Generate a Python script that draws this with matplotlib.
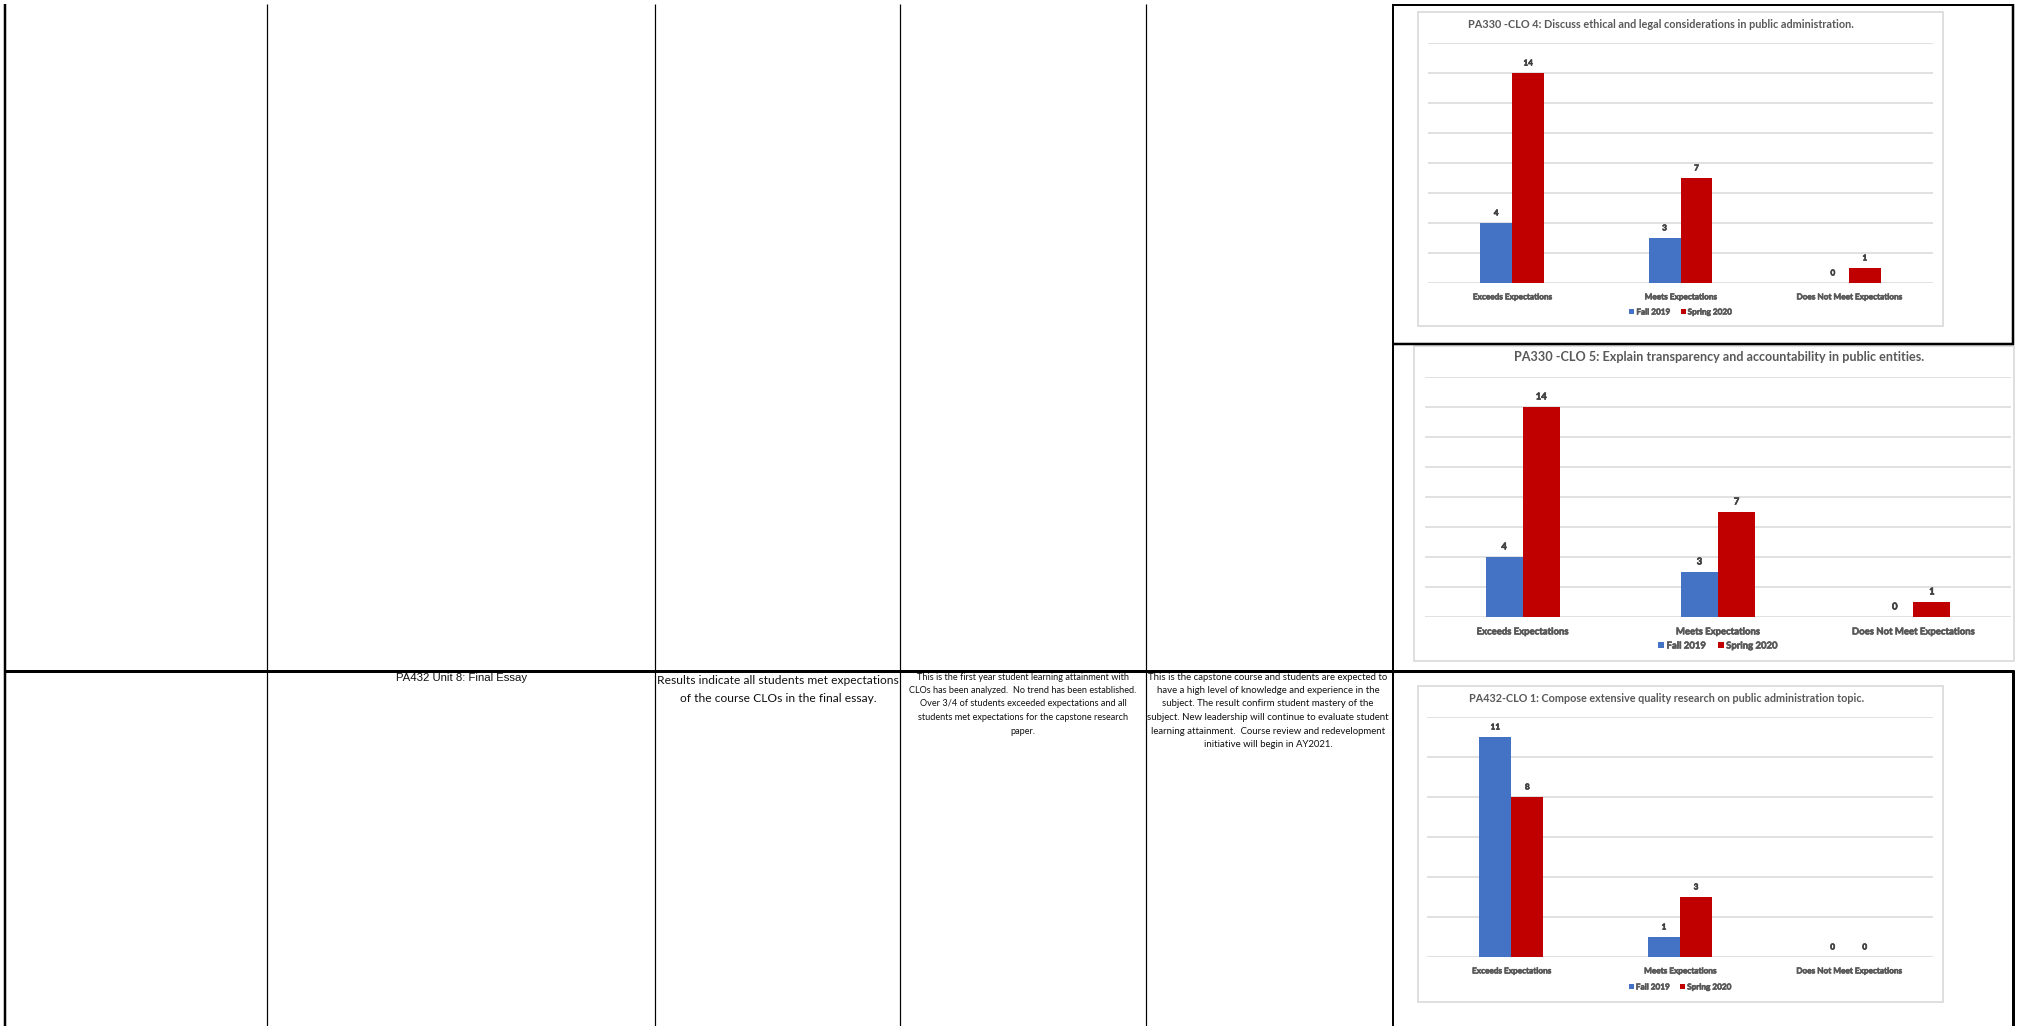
import numpy as np
import matplotlib
matplotlib.use("Agg")
import matplotlib.pyplot as plt
import matplotlib.patheffects as pe
from matplotlib.patches import Rectangle
from matplotlib import font_manager

W, H = 2023, 1026

# Chart data
categories = ["Exceeds Expectations", "Meets Expectations", "Does Not Meet Expectations"]
terms = ["Fall 2019", "Spring 2020"]

clo4_fall = [4, 3, 0]
clo4_spring = [14, 7, 1]
clo5_fall = [4, 3, 0]
clo5_spring = [14, 7, 1]
clo1_fall = [11, 1, 0]
clo1_spring = [8, 3, 0]

clo4_title = "PA330 -CLO 4: Discuss ethical and legal considerations in public administration."
clo5_title = "PA330 -CLO 5: Explain transparency and accountability in public entities."
clo1_title = "PA432-CLO 1: Compose extensive quality research on public administration topic."

# Table cells of the PA432 row
assessment_text = "PA432 Unit 8: Final Essay"
results_lines = ["Results indicate all students met expectations",
                 "of the course CLOs in the final essay."]
trend_lines = ["This is the first year student learning attainment with",
               "CLOs has been analyzed.  No trend has been established.",
               "Over 3/4 of students exceeded expectations and all",
               "students met expectations for the capstone research",
               "paper."]
action_lines = ["This is the capstone course and students are expected to",
                "have a high level of knowledge and experience in the",
                "subject. The result confirm student mastery of the",
                "subject. New leadership will continue to evaluate student",
                "learning attainment.  Course review and redevelopment",
                "initiative will begin in AY2021."]

BLUE = "#4472C4"
RED = "#C00000"
GRID = "#D9D9D9"
TXT = "#595959"

installed = {f.name for f in font_manager.fontManager.ttflist}
NARROW = "Liberation Sans Narrow" if "Liberation Sans Narrow" in installed else "Liberation Sans"
BODY = "Lato"

fig = plt.figure(figsize=(W / 100, H / 100), dpi=100)
fig.patch.set_facecolor("white")
bg = fig.add_axes([0, 0, 1, 1])
bg.set_xlim(0, W)
bg.set_ylim(H, 0)
bg.axis("off")


def px_axes(x0, y0, x1, y1):
    return fig.add_axes([x0 / W, 1 - y1 / H, (x1 - x0) / W, (y1 - y0) / H])


def line(xs, ys, px):
    bg.plot(xs, ys, color="black", lw=px * 0.72, solid_capstyle="butt")


renderer = fig.canvas.get_renderer()


def fit(texts, width):
    # scale a group of text lines so the widest one spans `width` pixels
    widest = max(t.get_window_extent(renderer).width for t in texts)
    for t in texts:
        t.set_fontsize(t.get_fontsize() * width / widest)


def size_for(s, width, **kw):
    probe = bg.text(0, 0, s, fontsize=10, **kw)
    w = probe.get_window_extent(renderer).width
    probe.remove()
    return 10 * width / w


# table grid
for x in (267, 655, 900, 1146):
    line([x, x], [4, H], 1.2)
line([5, 5], [4, H], 2.5)
line([1393, 1393], [4, H], 2)
line([2013, 2013], [4, 345], 2.5)
line([2013, 2013], [670, H], 3)
line([1392, 2014], [5, 5], 2)
line([1392, 2014], [344, 344], 2.5)
line([4, 2014], [671, 671], 3)

t = bg.text(462, 678, assessment_text, ha="center", va="center", fontsize=9,
            family=NARROW, color="#111111")
fit([t], 132)


def block(lines, cx, y0, step, width, size):
    ts = [bg.text(cx, y0 + i * step, s, ha="center", va="center", fontsize=size,
                  family=BODY, color="#111111") for i, s in enumerate(lines)]
    fit(ts, width)


block(results_lines, 778, 680, 18, 240, 10)
block(trend_lines, 1023, 677, 13.5, 228, 7)
block(action_lines, 1268, 677, 13.5, 243, 7)

# small chart labels are thin at this size, thicken them a little
heavy = [pe.withStroke(linewidth=0.45, foreground=TXT)]
heavy_dark = [pe.withStroke(linewidth=0.45, foreground="#404040")]


def draw_chart(box, plot, title, title_pos, title_w, fall, spring, ymax,
               legend_y, label_w):
    x0, y0, x1, y1 = box
    bg.add_patch(Rectangle((x0, y0), x1 - x0, y1 - y0, fc="white", ec=GRID, lw=1.2))
    tt = bg.text(title_pos[0], title_pos[1], title, ha="center", va="center",
                 fontsize=7, fontweight="bold", family=BODY, color=TXT)
    fit([tt], title_w)
    fs = size_for(categories[2], label_w, family=BODY, fontweight="bold")

    ax = px_axes(*plot)
    idx = np.arange(len(categories))
    w = 0.19
    bars_f = ax.bar(idx - w / 2, fall, w, color=BLUE, label=terms[0])
    bars_s = ax.bar(idx + w / 2, spring, w, color=RED, label=terms[1])
    for bars, vals in ((bars_f, fall), (bars_s, spring)):
        for b, v in zip(bars, vals):
            ax.annotate(str(v), (b.get_x() + b.get_width() / 2, v), xytext=(0, 10),
                        textcoords="offset pixels", ha="center", va="center",
                        fontsize=fs, fontweight="bold", family=BODY, color="#404040",
                        path_effects=heavy_dark)
    ax.set_xlim(-0.5, 2.5)
    ax.set_ylim(0, ymax)
    ax.set_yticks(range(0, ymax + 1, 2))
    ax.grid(axis="y", color=GRID, lw=1.1)
    ax.set_axisbelow(True)
    for s in ax.spines.values():
        s.set_visible(False)
    ax.tick_params(left=False, labelleft=False, bottom=False, pad=4)
    ax.set_xticks(idx, categories)
    for lab in ax.get_xticklabels():
        lab.set_fontsize(fs)
        lab.set_fontweight("bold")
        lab.set_family(BODY)
        lab.set_color(TXT)
        lab.set_path_effects(heavy)
    ax.patch.set_alpha(0)
    cx = (plot[0] + plot[2]) / 2
    leg = ax.legend(loc="center", bbox_to_anchor=(cx, legend_y), bbox_transform=bg.transData,
                    ncol=2, frameon=False, handlelength=0.6, handleheight=0.6,
                    handletextpad=0.25, columnspacing=1.3,
                    prop={"family": BODY, "weight": "bold", "size": fs},
                    labelcolor=TXT)
    for lt in leg.get_texts():
        lt.set_path_effects(heavy)
    return ax


draw_chart((1418, 12, 1943, 326), (1428, 43, 1933, 283), clo4_title, (1661, 25), 387,
           clo4_fall, clo4_spring, 16, 312, 106)
draw_chart((1414, 346, 2014, 661), (1425, 377, 2011, 617), clo5_title, (1719, 357), 412,
           clo5_fall, clo5_spring, 16, 646, 123)
draw_chart((1418, 686, 1943, 1002), (1427, 717, 1933, 957), clo1_title, (1667, 699), 399,
           clo1_fall, clo1_spring, 12, 987, 106)

fig.savefig("out.png", dpi=100, facecolor="white")
